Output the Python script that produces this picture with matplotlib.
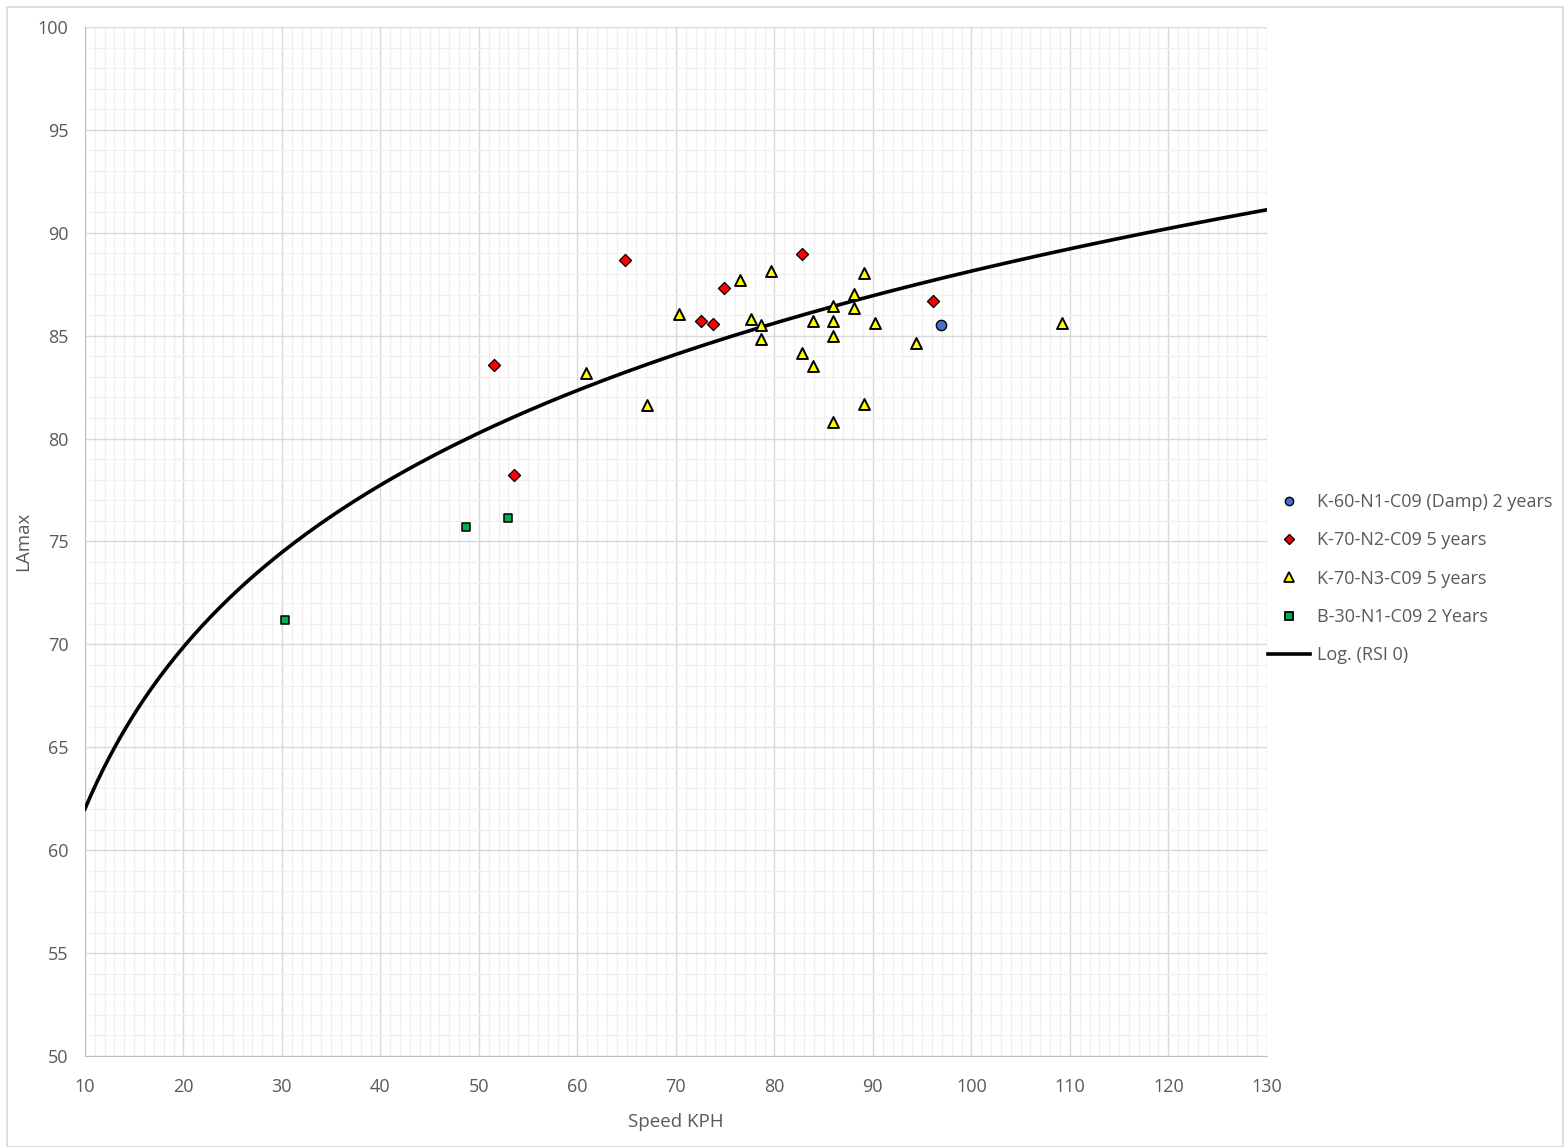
import numpy as np
import matplotlib.pyplot as plt
from matplotlib.patches import Rectangle
from matplotlib.lines import Line2D

# K-60-N1-C09 (Damp) 2 years
damp_x = [96.9]
damp_y = [85.5]

# K-70-N2-C09 5 years
n2_x = [64.8, 82.8, 74.9, 72.6, 73.8, 96.1, 51.5, 53.6]
n2_y = [88.7, 88.97, 87.3, 85.7, 85.57, 86.7, 83.58, 78.23]

# K-70-N3-C09 5 years
n3_x = [70.3, 76.5, 79.7, 89.1, 77.6, 78.6, 78.6, 82.8, 83.9, 83.9, 86.0, 86.0,
        86.0, 88.1, 88.1, 90.2, 94.4, 109.2, 60.9, 67.1, 89.1, 86.0]
n3_y = [86.05, 87.7, 88.14, 88.05, 85.8, 85.5, 84.84, 84.16, 85.71, 83.53, 86.44, 85.71,
        84.99, 87.03, 86.35, 85.62, 84.64, 85.62, 83.19, 81.63, 81.68, 80.81]

# B-30-N1-C09 2 Years
b30_x = [30.3, 48.7, 53.0]
b30_y = [71.19, 75.7, 76.14]

# Log. (RSI 0) trendline: y = a*ln(x) + b
log_a = 11.35
log_b = 35.87

labels = ["K-60-N1-C09 (Damp) 2 years", "K-70-N2-C09 5 years",
          "K-70-N3-C09 5 years", "B-30-N1-C09 2 Years", "Log. (RSI 0)"]

plt.rcParams['font.family'] = ['Open Sans', 'DejaVu Sans']
txt = "#595959"

fig = plt.figure(figsize=(15.64, 11.47), dpi=100)
fig.patches.append(Rectangle((0.0045, 0.0), 0.995, 0.994, transform=fig.transFigure,
                             fill=False, edgecolor="#d9d9d9", linewidth=1.2))
ax = fig.add_axes([0.0543, 0.0793, 0.7557, 0.8972])

ax.set_xlim(10, 130)
ax.set_ylim(50, 100)
ax.set_xticks(np.arange(10, 131, 10))
ax.set_yticks(np.arange(50, 101, 5))
ax.set_xticks(np.arange(10, 131, 1), minor=True)
ax.set_yticks(np.arange(50, 101, 1), minor=True)
ax.grid(which="minor", color="#f0f0f0", linewidth=1.0)
ax.grid(which="major", color="#d9d9d9", linewidth=1.0)
ax.set_axisbelow(True)
ax.tick_params(which="both", length=0, colors=txt, labelsize=13)
ax.tick_params(axis="x", pad=16)
ax.tick_params(axis="y", pad=12)
for s in ["top", "right"]:
    ax.spines[s].set_visible(False)
for s in ["left", "bottom"]:
    ax.spines[s].set_color("#bfbfbf")

xs = np.linspace(10, 130, 400)
ax.plot(xs, log_a * np.log(xs) + log_b, color="black", linewidth=2.6, zorder=3)

ax.scatter(damp_x, damp_y, marker="o", s=55, color="#4472c4", edgecolors="black", linewidths=1.0, zorder=4)
ax.scatter(n2_x, n2_y, marker="D", s=38, color="#ff0000", edgecolors="black", linewidths=0.9, zorder=4)
ax.scatter(n3_x, n3_y, marker="^", s=62, color="#ffff00", edgecolors="black", linewidths=1.4, zorder=4)
ax.scatter(b30_x, b30_y, marker="s", s=38, color="#00b050", edgecolors="black", linewidths=1.1, zorder=4)

ax.set_xlabel("Speed KPH", color=txt, fontsize=13.5, labelpad=12)
ax.set_ylabel("LAmax", color=txt, fontsize=13.5, labelpad=4)

handles = [
    Line2D([], [], linestyle="none", marker="o", markersize=6, markerfacecolor="#4472c4", markeredgecolor="black"),
    Line2D([], [], linestyle="none", marker="D", markersize=5.5, markerfacecolor="#ff0000", markeredgecolor="black"),
    Line2D([], [], linestyle="none", marker="^", markersize=7, markerfacecolor="#ffff00", markeredgecolor="black", markeredgewidth=1.3),
    Line2D([], [], linestyle="none", marker="s", markersize=5.5, markerfacecolor="#00b050", markeredgecolor="black", markeredgewidth=1.3),
    Line2D([], [], color="black", linewidth=2.6),
]
leg = fig.legend(handles, labels, loc="center left", bbox_to_anchor=(0.811, 0.4955),
                 frameon=False, fontsize=13, labelspacing=1.12, handlelength=2.3,
                 handletextpad=0.4, borderaxespad=0, borderpad=0)
for t in leg.get_texts():
    t.set_color(txt)

fig.savefig("out.png", dpi=100)
